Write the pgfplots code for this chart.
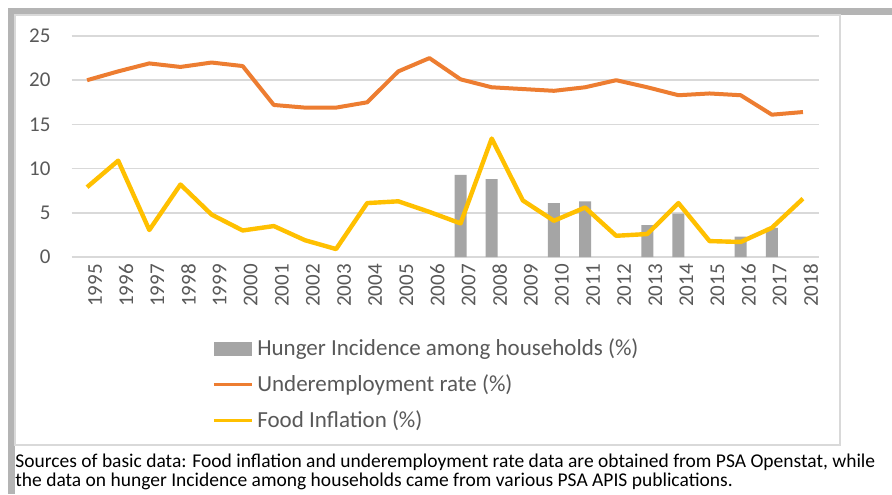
\documentclass[border=0pt]{standalone}
\usepackage{fontspec}
\setmainfont{Carlito}
\usepackage{pgfplots}
\pgfplotsset{compat=1.18}
\definecolor{orn}{HTML}{ED7D31}
\definecolor{yel}{HTML}{FFC000}
\definecolor{bargray}{HTML}{A5A5A5}
\definecolor{gridc}{HTML}{D9D9D9}
\definecolor{txt}{HTML}{595959}
\definecolor{framec}{HTML}{B4B4B4}
\begin{document}
\begin{tikzpicture}
\path[use as bounding box] (0pt,0pt) rectangle (446pt,247pt);
\fill[white] (0pt,0pt) rectangle (446pt,247pt);
\fill[framec] (4pt,239.5pt) rectangle (446pt,243pt);
\fill[framec] (4pt,0pt) rectangle (7.5pt,243pt);
\draw[gridc, line width=0.75pt] (7.5pt,24.5pt) rectangle (420pt,239.5pt);
\begin{axis}[
  at={(35.75pt,118.5pt)}, anchor=south west,
  scale only axis, width=373.5pt, height=110.5pt,
  xmin=1994.5, xmax=2018.5, ymin=0, ymax=25,
  axis line style={draw=none}, tick style={draw=none},
  major tick length=0pt,
  ymajorgrids, grid style={gridc, line width=0.75pt},
  xtick={1995,...,2018}, ytick={0,5,...,25},
  /pgf/number format/1000 sep={},
  /pgf/number format/assume math mode=true,
  xticklabel style={rotate=90, anchor=east, font=\fontsize{10.5}{12}\selectfont, text=txt, xshift=0pt, yshift=-4pt},
  yticklabel style={font=\fontsize{10.5}{12}\selectfont, text=txt, xshift=-7pt},
  legend style={at={(0.188,-0.35)}, anchor=north west, draw=none, fill=none,
    font=\fontsize{11.5}{13}\selectfont, text=txt, row sep=4pt, inner sep=0pt},
  legend cell align=left,
]
\addplot[ybar, bar width=6pt, fill=bargray, draw=none,
  legend image code/.code={\fill[bargray] (0pt,-3.5pt) rectangle (19pt,3.5pt);}]
  coordinates {(2007,9.3) (2008,8.8) (2010,6.1) (2011,6.3) (2013,3.6) (2014,4.9) (2016,2.3) (2017,3.3)};
\addlegendentry{Hunger Incidence among households (\%)}
\addplot[orn, line width=2pt, mark=none, line join=round,
  legend image code/.code={\draw[orn, line width=1.5pt] (0pt,0pt) -- (19pt,0pt);}]
  coordinates {(1995,20.0) (1996,21.0) (1997,21.9) (1998,21.5) (1999,22.0) (2000,21.6)
  (2001,17.2) (2002,16.9) (2003,16.9) (2004,17.5) (2005,21.0) (2006,22.5) (2007,20.1)
  (2008,19.2) (2009,19.0) (2010,18.8) (2011,19.2) (2012,20.0) (2013,19.2) (2014,18.3)
  (2015,18.5) (2016,18.3) (2017,16.1) (2018,16.4)};
\addlegendentry{Underemployment rate (\%)}
\addplot[yel, line width=2.2pt, mark=none, line join=round,
  legend image code/.code={\draw[yel, line width=1.5pt] (0pt,0pt) -- (19pt,0pt);}]
  coordinates {(1995,7.9) (1996,10.9) (1997,3.05) (1998,8.2) (1999,4.8) (2000,3.0)
  (2001,3.5) (2002,1.9) (2003,0.9) (2004,6.1) (2005,6.3) (2006,5.1) (2007,3.8)
  (2008,13.4) (2009,6.4) (2010,4.1) (2011,5.6) (2012,2.4) (2013,2.6) (2014,6.1)
  (2015,1.8) (2016,1.7) (2017,3.3) (2018,6.6)};
\addlegendentry{Food Inflation (\%)}
\end{axis}
\node[anchor=west, font=\fontsize{9.75}{12}\selectfont, inner sep=0pt] at (7.5pt,16pt) {Sources of basic data: Food inflation and underemployment rate data are obtained from PSA Openstat, while};
\node[anchor=west, font=\fontsize{9.75}{12}\selectfont, inner sep=0pt] at (7.5pt,6.5pt) {the data on hunger Incidence among households came from various PSA APIS publications.};
\end{tikzpicture}
\end{document}
